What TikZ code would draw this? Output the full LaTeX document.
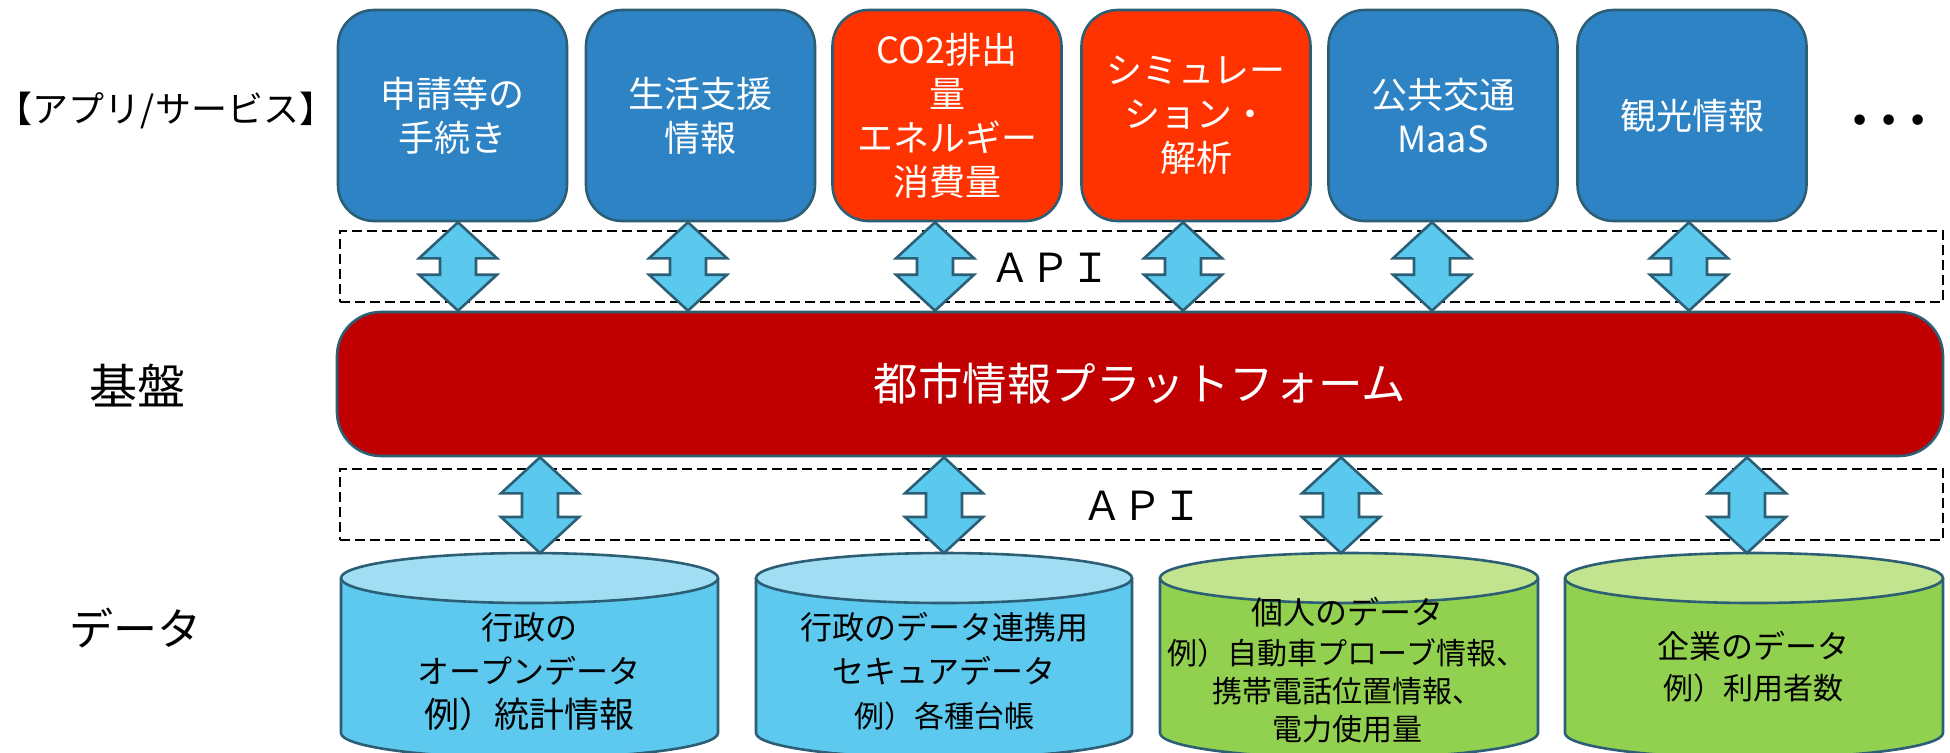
\documentclass[tikz,border=0pt]{standalone}
\usepackage{fontspec}
\setmainfont{Noto Sans CJK JP}
\newfontfamily\dejavu{DejaVu Sans}
\usetikzlibrary{calc}
\definecolor{boxblue}{HTML}{2E83C4}
\definecolor{boxred}{HTML}{FF3300}
\definecolor{platred}{HTML}{C00000}
\definecolor{edgecol}{HTML}{2C5F75}
\definecolor{arrowblue}{HTML}{5BC9EE}
\definecolor{cylblue}{HTML}{5DC9EE}
\definecolor{cylbluetop}{HTML}{A2DEF3}
\definecolor{cylgreen}{HTML}{92D050}
\definecolor{cylgreentop}{HTML}{C3E48F}
\newcommand\fs[2]{\fontsize{#1}{#2}\selectfont}
\newcommand\dblarrow[2]{%
  \draw[udarrow] (#1) -- ++(39,36) -- ++(-21,0) -- ($(#2)+(18,-36)$) -- ++(21,0) -- (#2)
    -- ++(-39,-36) -- ++(21,0) -- ($(#1)+(-18,36)$) -- ++(-21,0) -- cycle;}
\newcommand\drawcyl[4]{%
  \fill[#3] (#1-#2,578) -- (#1-#2,733) arc[start angle=180, end angle=0, x radius=#2, y radius=25] -- (#1+#2,578) -- cycle;
  \draw[edgecol, line width=1.3pt] (#1-#2,578) -- (#1-#2,733) arc[start angle=180, end angle=0, x radius=#2, y radius=25] -- (#1+#2,578);
  \filldraw[fill=#4, draw=edgecol, line width=1.3pt] (#1,578) ellipse[x radius=#2, y radius=25];}
\begin{document}
\begin{tikzpicture}[x=0.5pt,y=-0.5pt,
  appbox/.style={draw=edgecol, line width=1.3pt, rounded corners=18pt, minimum width=114.5pt,
    minimum height=105.5pt, text=white, align=center, font=\fs{18pt}{22pt}, inner sep=0pt},
  bluebox/.style={appbox, fill=boxblue},
  redbox/.style={appbox, fill=boxred},
  platbox/.style={draw=edgecol, line width=1.3pt, fill=platred, rounded corners=22pt,
    minimum width=803pt, minimum height=72pt, text=white, font=\fs{22.25pt}{26pt}},
  apibox/.style={draw=black, line width=1pt, dash pattern=on 5pt off 2.5pt,
    minimum width=801.5pt, minimum height=35.5pt, inner sep=0pt},
  apitext/.style={font=\fs{20pt}{24pt}, inner sep=0pt},
  sidelabel/.style={inner sep=0pt, text=black},
  udarrow/.style={draw=edgecol, line width=1.3pt, fill=arrowblue, line join=miter},
  cyltext/.style={align=center, inner sep=0pt, text=black}
]
\useasboundingbox (0,0) rectangle (1950,752);

% API dashed bands
\node[apibox] (api1) at (1141.5,266) {};
\node[apibox] (api2) at (1141.5,504.5) {};
\node[apitext] (api1t) at (1050,268) {ＡＰＩ};
\node[apitext] (api2t) at (1142,506) {ＡＰＩ};

% side labels
\node[sidelabel, font=\fs{18pt}{21pt}] (lapp) at (166,110) {【アプリ/サービス】};
\node[sidelabel, font=\fs{24pt}{28pt}] (lbase) at (137,386) {基盤};
\node[sidelabel, font=\fs{22pt}{26pt}] (ldata) at (135,628) {データ};

% application boxes
\node[bluebox] (b1) at (452.5,115.5) {申請等の\\手続き};
\node[bluebox] (b2) at (700.5,115.5) {生活支援\\情報};
\node[redbox]  (b3) at (947,115.5) {CO2排出\\量\\エネルギー\\消費量};
\node[redbox]  (b4) at (1196,115.5) {シミュレー\\ション・\\解析};
\node[bluebox] (b5) at (1443,115.5) {公共交通\\MaaS};
\node[bluebox] (b6) at (1692,115.5) {観光情報};
\node[inner sep=0pt] (more) at (1889,124) {\dejavu\fs{18pt}{18pt}•\hspace{4pt}•\hspace{4pt}•};

% platform
\node[platbox] (plat) at (1140,384) {都市情報プラットフォーム};

% cylinders
\drawcyl{529.5}{188.5}{cylblue}{cylbluetop}
\drawcyl{944}{188}{cylblue}{cylbluetop}
\drawcyl{1349}{189}{cylgreen}{cylgreentop}
\drawcyl{1754}{189}{cylgreen}{cylgreentop}
\coordinate (c1top) at (529.5,553);
\coordinate (c2top) at (944,553);
\coordinate (c3top) at (1349,553);
\coordinate (c4top) at (1754,553);

\node[cyltext, font=\fs{16pt}{22pt}] (c1) at (529,672) {行政の\\オープンデータ\\{\fs{17.5pt}{22pt}例）統計情報}};
\node[cyltext, font=\fs{16pt}{22pt}] (c2) at (944,671) {行政のデータ連携用\\セキュアデータ\\{\fs{15pt}{22pt}例）各種台帳}};
\node[cyltext, font=\fs{15pt}{19pt}] (c3) at (1347,670) {{\fs{16pt}{19pt}個人のデータ}\\[1pt]例）自動車プローブ情報、\\携帯電話位置情報、\\電力使用量};
\node[cyltext, font=\fs{15pt}{20.5pt}] (c4) at (1753,667) {{\fs{16pt}{20.5pt}企業のデータ}\\例）利用者数};

% arrow x positions
\coordinate (xa1) at (458,0);
\coordinate (xa2) at (688,0);
\coordinate (xa3) at (935,0);
\coordinate (xa4) at (1183,0);
\coordinate (xa5) at (1432,0);
\coordinate (xa6) at (1689,0);
\coordinate (xb1) at (540,0);
\coordinate (xb2) at (944,0);
\coordinate (xb3) at (1341,0);
\coordinate (xb4) at (1747,0);

\foreach \i in {1,...,6}{
  \coordinate (ta\i) at (xa\i |- b\i.south);
  \coordinate (pa\i) at (xa\i |- plat.north);
  \dblarrow{ta\i}{pa\i}
}
\foreach \i in {1,...,4}{
  \coordinate (pb\i) at (xb\i |- plat.south);
  \coordinate (cb\i) at (xb\i |- c\i top);
  \dblarrow{pb\i}{cb\i}
}
\end{tikzpicture}
\end{document}
